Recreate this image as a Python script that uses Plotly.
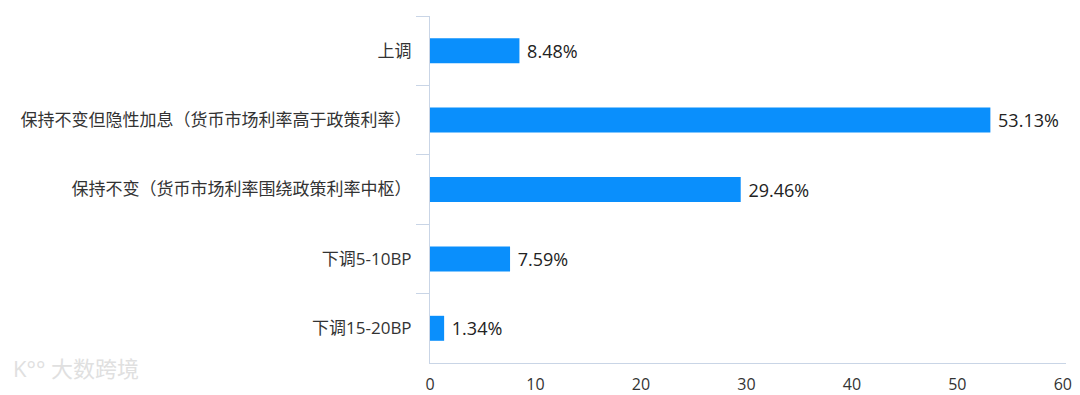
import plotly.graph_objects as go

categories = [
    "上调",
    "保持不变但隐性加息（货币市场利率高于政策利率）",
    "保持不变（货币市场利率围绕政策利率中枢）",
    "下调5-10BP",
    "下调15-20BP",
]
values = [8.48, 53.13, 29.46, 7.59, 1.34]
x_ticks = [0, 10, 20, 30, 40, 50, 60]

FONT = "Open Sans, Noto Sans CJK SC, sans-serif"
AXIS = "#c9d5e6"

fig = go.Figure(
    go.Bar(
        x=values,
        y=categories,
        orientation="h",
        marker=dict(color="#0a8ffc", line=dict(width=0)),
        text=[f" {v:.2f}%" for v in values],
        textposition="outside",
        textfont=dict(size=18, color="#222", family=FONT),
        cliponaxis=False,
        hoverinfo="x+y",
    )
)

fig.update_layout(
    width=1080,
    height=395,
    margin=dict(l=422, r=22, t=8, b=40),
    paper_bgcolor="white",
    plot_bgcolor="white",
    bargap=0.64,
    showlegend=False,
    font=dict(family=FONT, size=15, color="#333"),
)

fig.update_xaxes(
    range=[0, 60.3],
    tickvals=x_ticks,
    showgrid=False,
    zeroline=False,
    showline=True,
    linecolor=AXIS,
    linewidth=1,
    ticks="",
    automargin=False,
    ticklabelstandoff=7,
    tickfont=dict(size=16, color="#333", family=FONT),
)

fig.update_yaxes(
    type="category",
    categoryorder="array",
    categoryarray=categories,
    autorange="reversed",
    showgrid=False,
    zeroline=False,
    showline=True,
    linecolor=AXIS,
    linewidth=1,
    ticks="outside",
    tickson="boundaries",
    ticklen=13,
    tickcolor=AXIS,
    tickwidth=1,
    ticklabelstandoff=14,
    automargin=False,
    tickfont=dict(size=17, color="#333", family=FONT),
)

# watermark
fig.add_annotation(
    x=-419 / 636, y=-22 / 347, xref="paper", yref="paper", xanchor="left", yanchor="bottom",
    text="K°° 大数跨境", showarrow=False,
    font=dict(size=22, color="#e0e0e0", family=FONT),
)

fig.write_html("out.html")
